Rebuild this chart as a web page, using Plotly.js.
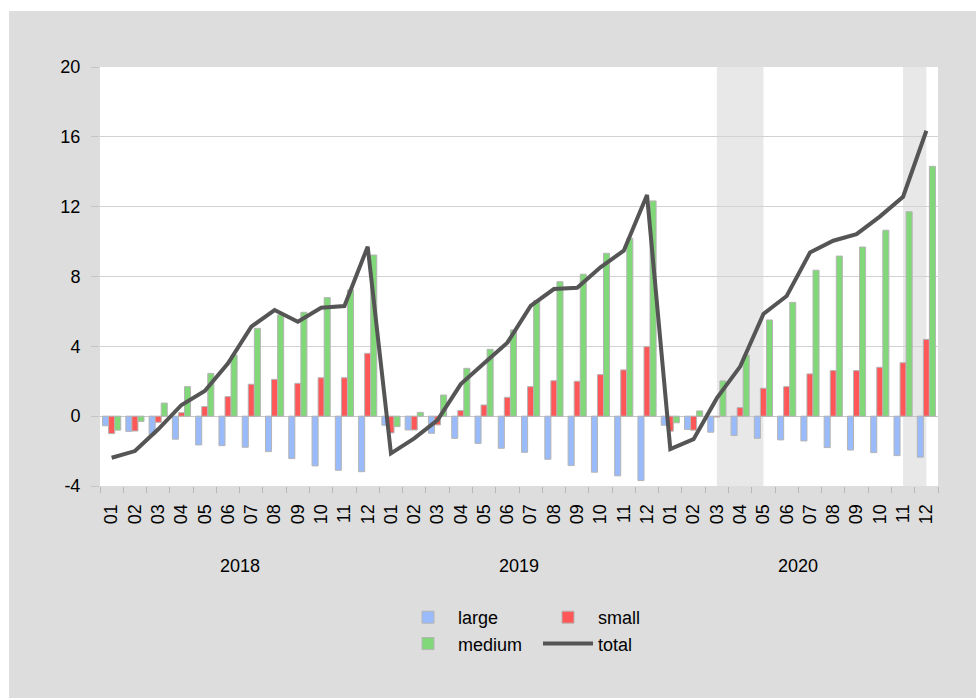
<!DOCTYPE html>
<html>
<head>
<meta charset="utf-8">
<script src="https://cdn.plot.ly/plotly-3.0.1.min.js"></script>
<style>html,body{margin:0;padding:0;background:#fff;}#chart{width:976px;height:698px;}</style>
</head>
<body>
<div id="chart"></div>
<script>
const years = ["2018", "2019", "2020"];
const months = ["01","02","03","04","05","06","07","08","09","10","11","12"];
const yTickVals = [-4, 0, 4, 8, 12, 16, 20];
const yTickText = ["-4", "0", "4", "8", "12", "16", "20"];

const large = [
  -0.55, -0.87, -1.07, -1.32, -1.65, -1.69, -1.78, -2.03, -2.43, -2.85, -3.10, -3.18,
  -0.52, -0.79, -0.98, -1.27, -1.56, -1.84, -2.07, -2.47, -2.83, -3.21, -3.42, -3.69,
  -0.52, -0.76, -0.92, -1.11, -1.27, -1.36, -1.42, -1.80, -1.94, -2.09, -2.26, -2.35
];
const small = [
  -1.00, -0.85, -0.35, 0.20, 0.55, 1.12, 1.83, 2.11, 1.88, 2.20, 2.20, 3.60,
  -0.96, -0.79, -0.50, 0.32, 0.64, 1.08, 1.69, 2.03, 2.00, 2.38, 2.65, 3.98,
  -0.86, -0.80, -0.05, 0.49, 1.60, 1.69, 2.42, 2.61, 2.61, 2.80, 3.06, 4.40
];
const medium = [
  -0.80, -0.30, 0.75, 1.69, 2.45, 3.50, 5.03, 5.80, 5.95, 6.79, 7.23, 9.23,
  -0.60, 0.22, 1.21, 2.74, 3.83, 4.94, 6.62, 7.70, 8.13, 9.33, 10.19, 12.33,
  -0.38, 0.30, 2.02, 3.50, 5.51, 6.52, 8.36, 9.17, 9.69, 10.65, 11.71, 14.31
];
const total = [
  -2.38, -2.00, -0.75, 0.64, 1.44, 3.03, 5.13, 6.08, 5.41, 6.21, 6.31, 9.71,
  -2.13, -1.27, -0.22, 1.84, 3.03, 4.21, 6.31, 7.28, 7.36, 8.53, 9.48, 12.67,
  -1.88, -1.32, 1.03, 2.84, 5.85, 6.88, 9.37, 10.05, 10.43, 11.43, 12.57, 16.35
];
// shaded periods (start month index, end month index)
const shadeStart = [26, 34];
const shadeEnd = [28, 35];

const n = large.length;
const idx = Array.from({length: n}, (_, i) => i);
const monthLabels = idx.map(i => months[i % 12]);
const bounds = Array.from({length: n + 1}, (_, i) => i - 0.5);

const FONT = "Liberation Sans, Arial, sans-serif";
const barLine = {color: "#b4b4b4", width: 1};

const traces = [
  {type: "bar", name: "large", x: idx, y: large, marker: {color: "#99bbfb", line: barLine}, legend: "legend", hoverinfo: "y"},
  {type: "bar", name: "small", x: idx, y: small, marker: {color: "#ff5757", line: barLine}, legend: "legend2", hoverinfo: "y"},
  {type: "bar", name: "medium", x: idx, y: medium, marker: {color: "#80d878", line: barLine}, legend: "legend", hoverinfo: "y"},
  {type: "scatter", mode: "lines", name: "total", x: idx, y: total, line: {color: "#555555", width: 4}, legend: "legend2"},
  {type: "scatter", x: [], y: [], xaxis: "x2", showlegend: false, hoverinfo: "skip"}
];

const W = 976, H = 698, L = 100, R = 38, T = 67, B = 212;
const pw = W - L - R, ph = H - T - B;
const px = p => (p - L) / pw;
const py = p => 1 - (p - T) / ph;

const shapes = [
  {type: "rect", xref: "paper", yref: "paper", x0: px(0), x1: px(W), y0: py(0), y1: py(11), fillcolor: "#ffffff", line: {width: 0}, layer: "below"},
  {type: "rect", xref: "paper", yref: "paper", x0: px(0), x1: px(9), y0: py(H), y1: py(0), fillcolor: "#ffffff", line: {width: 0}, layer: "below"}
];
shadeStart.forEach((s, k) => {
  shapes.push({type: "rect", xref: "x", yref: "paper", x0: s, x1: shadeEnd[k], y0: 0, y1: 1, fillcolor: "#e8e8e8", line: {width: 0}, layer: "below"});
});

const annotations = years.map((yr, k) => ({
  text: yr, xref: "x", yref: "paper", x: k * 12 + 5.5, y: py(566), yanchor: "middle", xanchor: "center",
  showarrow: false, font: {family: FONT, size: 18, color: "#000"}
}));

const layout = {
  width: W, height: H,
  margin: {l: L, r: R, t: T, b: B},
  paper_bgcolor: "#dddddd",
  plot_bgcolor: "#ffffff",
  font: {family: FONT, size: 18, color: "#000"},
  barmode: "group",
  bargap: 0.22,
  bargroupgap: 0,
  showlegend: true,
  xaxis: {
    range: [-0.5, n - 0.5], tickvals: idx, ticktext: monthLabels, tickangle: -90,
    ticks: "outside", ticklen: 10, tickcolor: "rgba(0,0,0,0)", showgrid: false, zeroline: false, showline: false,
    tickfont: {family: FONT, size: 18, color: "#000"}, fixedrange: true
  },
  xaxis2: {
    overlaying: "x", side: "bottom", anchor: "y", range: [-0.5, n - 0.5], tickvals: bounds,
    showticklabels: false, ticks: "outside", ticklen: 6, tickcolor: "#b8b8b8", showgrid: false, zeroline: false, showline: false
  },
  yaxis: {
    range: [-4, 20], tickvals: yTickVals, ticktext: yTickText, ticks: "outside", ticklen: 8, tickcolor: "#c4c4c4",
    gridcolor: "#d2d2d2", gridwidth: 1, zeroline: true, zerolinecolor: "#c8c8c8", zerolinewidth: 1, showline: false,
    ticklabelstandoff: 7, tickfont: {family: FONT, size: 18, color: "#000"}
  },
  legend: {
    x: px(398), y: py(599), xanchor: "left", yanchor: "top", orientation: "v", bgcolor: "rgba(0,0,0,0)",
    font: {family: FONT, size: 18}, itemwidth: 50, traceorder: "normal"
  },
  legend2: {
    x: px(538), y: py(599), xanchor: "left", yanchor: "top", orientation: "v", bgcolor: "rgba(0,0,0,0)",
    font: {family: FONT, size: 18}, itemwidth: 50, traceorder: "normal"
  },
  shapes: shapes,
  annotations: annotations
};

Plotly.newPlot("chart", traces, layout, {displayModeBar: false, staticPlot: true});
</script>
</body>
</html>
